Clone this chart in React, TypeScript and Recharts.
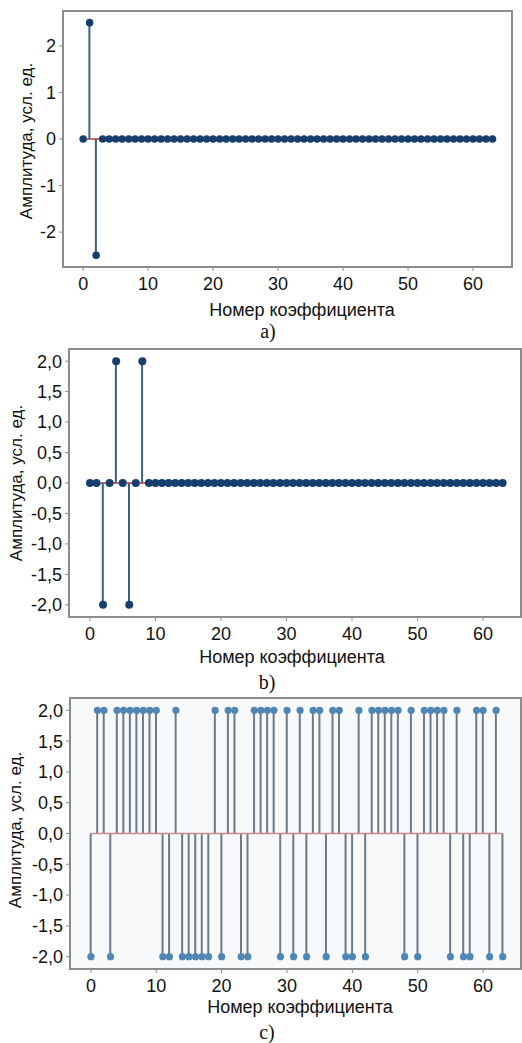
import React from 'react';
import { ComposedChart, Bar, Scatter, XAxis, YAxis, ReferenceLine, ReferenceArea, CartesianGrid } from 'recharts';

const coefIndex = [
  0, 1, 2, 3, 4, 5, 6, 7, 8, 9, 10, 11, 12, 13, 14, 15,
  16, 17, 18, 19, 20, 21, 22, 23, 24, 25, 26, 27, 28, 29, 30, 31,
  32, 33, 34, 35, 36, 37, 38, 39, 40, 41, 42, 43, 44, 45, 46, 47,
  48, 49, 50, 51, 52, 53, 54, 55, 56, 57, 58, 59, 60, 61, 62, 63,
];

const valuesA = [
  0, 2.5, -2.5, 0, 0, 0, 0, 0, 0, 0, 0, 0, 0, 0, 0, 0,
  0, 0, 0, 0, 0, 0, 0, 0, 0, 0, 0, 0, 0, 0, 0, 0,
  0, 0, 0, 0, 0, 0, 0, 0, 0, 0, 0, 0, 0, 0, 0, 0,
  0, 0, 0, 0, 0, 0, 0, 0, 0, 0, 0, 0, 0, 0, 0, 0,
];

const valuesB = [
  0, 0, -2, 0, 2, 0, -2, 0, 2, 0, 0, 0, 0, 0, 0, 0,
  0, 0, 0, 0, 0, 0, 0, 0, 0, 0, 0, 0, 0, 0, 0, 0,
  0, 0, 0, 0, 0, 0, 0, 0, 0, 0, 0, 0, 0, 0, 0, 0,
  0, 0, 0, 0, 0, 0, 0, 0, 0, 0, 0, 0, 0, 0, 0, 0,
];

const valuesC = [
  -2, 2, 2, -2, 2, 2, 2, 2, 2, 2, 2, -2, -2, 2, -2, -2,
  -2, -2, -2, 2, -2, 2, 2, -2, -2, 2, 2, 2, 2, -2, 2, -2,
  2, -2, 2, 2, -2, 2, 2, -2, -2, 2, -2, 2, 2, 2, 2, 2,
  -2, 2, -2, 2, 2, 2, 2, -2, 2, -2, -2, 2, 2, -2, 2, -2,
];

const xTicks = [0, 10, 20, 30, 40, 50, 60];
const yTicksA = [-2, -1, 0, 1, 2];
const yTicksBC = [-2, -1.5, -1, -0.5, 0, 0.5, 1, 1.5, 2];

const xTitle = 'Номер коэффициента';
const yTitle = 'Амплитуда, усл. ед.';

const FONT = '"Liberation Sans", Arial, sans-serif';
const FRAME = '#8c8c8c';

type StemProps = {
  values: number[];
  width: number;
  height: number;
  margin: { top: number; right: number; bottom: number; left: number };
  yAxisWidth: number;
  xDomain: [number, number];
  yDomain: [number, number];
  yTicks: number[];
  comma: boolean;
  dotColor: string;
  stemColor: string;
  baseColor: string;
  bg: string;
  dotR: number;
};

function StemChart(p: StemProps) {
  const data = coefIndex.map((i, k) => ({ idx: i, val: p.values[k] }));
  const fmt = (v: number) => (p.comma ? v.toFixed(1).replace('.', ',') : String(v));
  const tick = { fontSize: 18, fill: '#111', fontFamily: FONT };

  return (
    <ComposedChart width={p.width} height={p.height} data={data} margin={p.margin}>
      <CartesianGrid horizontal={false} vertical={false} fill={p.bg} />
      <XAxis
        type="number"
        dataKey="idx"
        domain={p.xDomain}
        ticks={xTicks}
        allowDataOverflow
        tick={tick}
        tickSize={4}
        tickMargin={6}
        stroke={FRAME}
        height={30}
      />
      <YAxis
        type="number"
        domain={p.yDomain}
        ticks={p.yTicks}
        allowDataOverflow
        tickFormatter={fmt}
        tick={tick}
        tickSize={4}
        tickMargin={3}
        stroke={FRAME}
        width={p.yAxisWidth}
      />
      <Bar dataKey="val" barSize={2} fill={p.stemColor} isAnimationActive={false} />
      <ReferenceLine
        segment={[{ x: 0, y: 0 }, { x: 63, y: 0 }]}
        stroke={p.baseColor}
        strokeWidth={1.5}
      />
      <Scatter
        dataKey="val"
        isAnimationActive={false}
        shape={(s: any) => <circle cx={s.cx} cy={s.cy} r={p.dotR} fill={p.dotColor} />}
      />
      <ReferenceArea
        x1={p.xDomain[0]}
        x2={p.xDomain[1]}
        y1={p.yDomain[0]}
        y2={p.yDomain[1]}
        fill="none"
        fillOpacity={0}
        stroke={FRAME}
        strokeWidth={2}
      />
    </ComposedChart>
  );
}

function Text({ x, y, text, rotate, serif, size }: { x: number; y: number; text: string; rotate?: boolean; serif?: boolean; size: number }) {
  return (
    <div
      style={{
        position: 'absolute',
        left: x,
        top: y,
        transform: `translate(-50%, -50%)${rotate ? ' rotate(-90deg)' : ''}`,
        whiteSpace: 'nowrap',
        fontFamily: serif ? '"Liberation Serif", "DejaVu Serif", serif' : FONT,
        fontSize: size,
        color: '#111',
        lineHeight: 1,
      }}
    >
      {text}
    </div>
  );
}

export default function App() {
  return (
    <div style={{ position: 'absolute', left: 0, top: 0, width: 522, height: 1043, background: '#fff', overflow: 'hidden' }}>
      <div style={{ position: 'absolute', left: 0, top: 0 }}>
        <StemChart
          values={valuesA}
          width={522}
          height={300}
          margin={{ top: 11, right: 10, bottom: 3, left: 23 }}
          yAxisWidth={40}
          xDomain={[-3.1, 66]}
          yDomain={[-2.75, 2.75]}
          yTicks={yTicksA}
          comma={false}
          dotColor="#173f6d"
          stemColor="#3f5f80"
          baseColor="#a94040"
          bg="#ffffff"
          dotR={3.8}
        />
      </div>
      <Text x={302} y={310} text={xTitle} size={18} />
      <Text x={26} y={141} text={yTitle} rotate size={17} />
      <Text x={268} y={331} text="а)" serif size={20} />

      <div style={{ position: 'absolute', left: 0, top: 340 }}>
        <StemChart
          values={valuesB}
          width={522}
          height={310}
          margin={{ top: 9, right: 1, bottom: 3, left: 19 }}
          yAxisWidth={50}
          xDomain={[-3.2, 65.8]}
          yDomain={[-2.2, 2.2]}
          yTicks={yTicksBC}
          comma
          dotColor="#173f6d"
          stemColor="#3f5f80"
          baseColor="#a94040"
          bg="#ffffff"
          dotR={4}
        />
      </div>
      <Text x={292} y={657} text={xTitle} size={18} />
      <Text x={16} y={483} text={yTitle} rotate size={17} />
      <Text x={267} y={682} text="b)" serif size={20} />

      <div style={{ position: 'absolute', left: 0, top: 690 }}>
        <StemChart
          values={valuesC}
          width={522}
          height={320}
          margin={{ top: 8, right: 1, bottom: 11, left: 20 }}
          yAxisWidth={50}
          xDomain={[-3.2, 65.8]}
          yDomain={[-2.2, 2.2]}
          yTicks={yTicksBC}
          comma
          dotColor="#4f86b5"
          stemColor="#6b7b8c"
          baseColor="#c98b8b"
          bg="#f8f9fa"
          dotR={3.6}
        />
      </div>
      <Text x={300} y={1007} text={xTitle} size={18} />
      <Text x={15} y={830} text={yTitle} rotate size={17} />
      <Text x={267} y={1032} text="c)" serif size={20} />
    </div>
  );
}
